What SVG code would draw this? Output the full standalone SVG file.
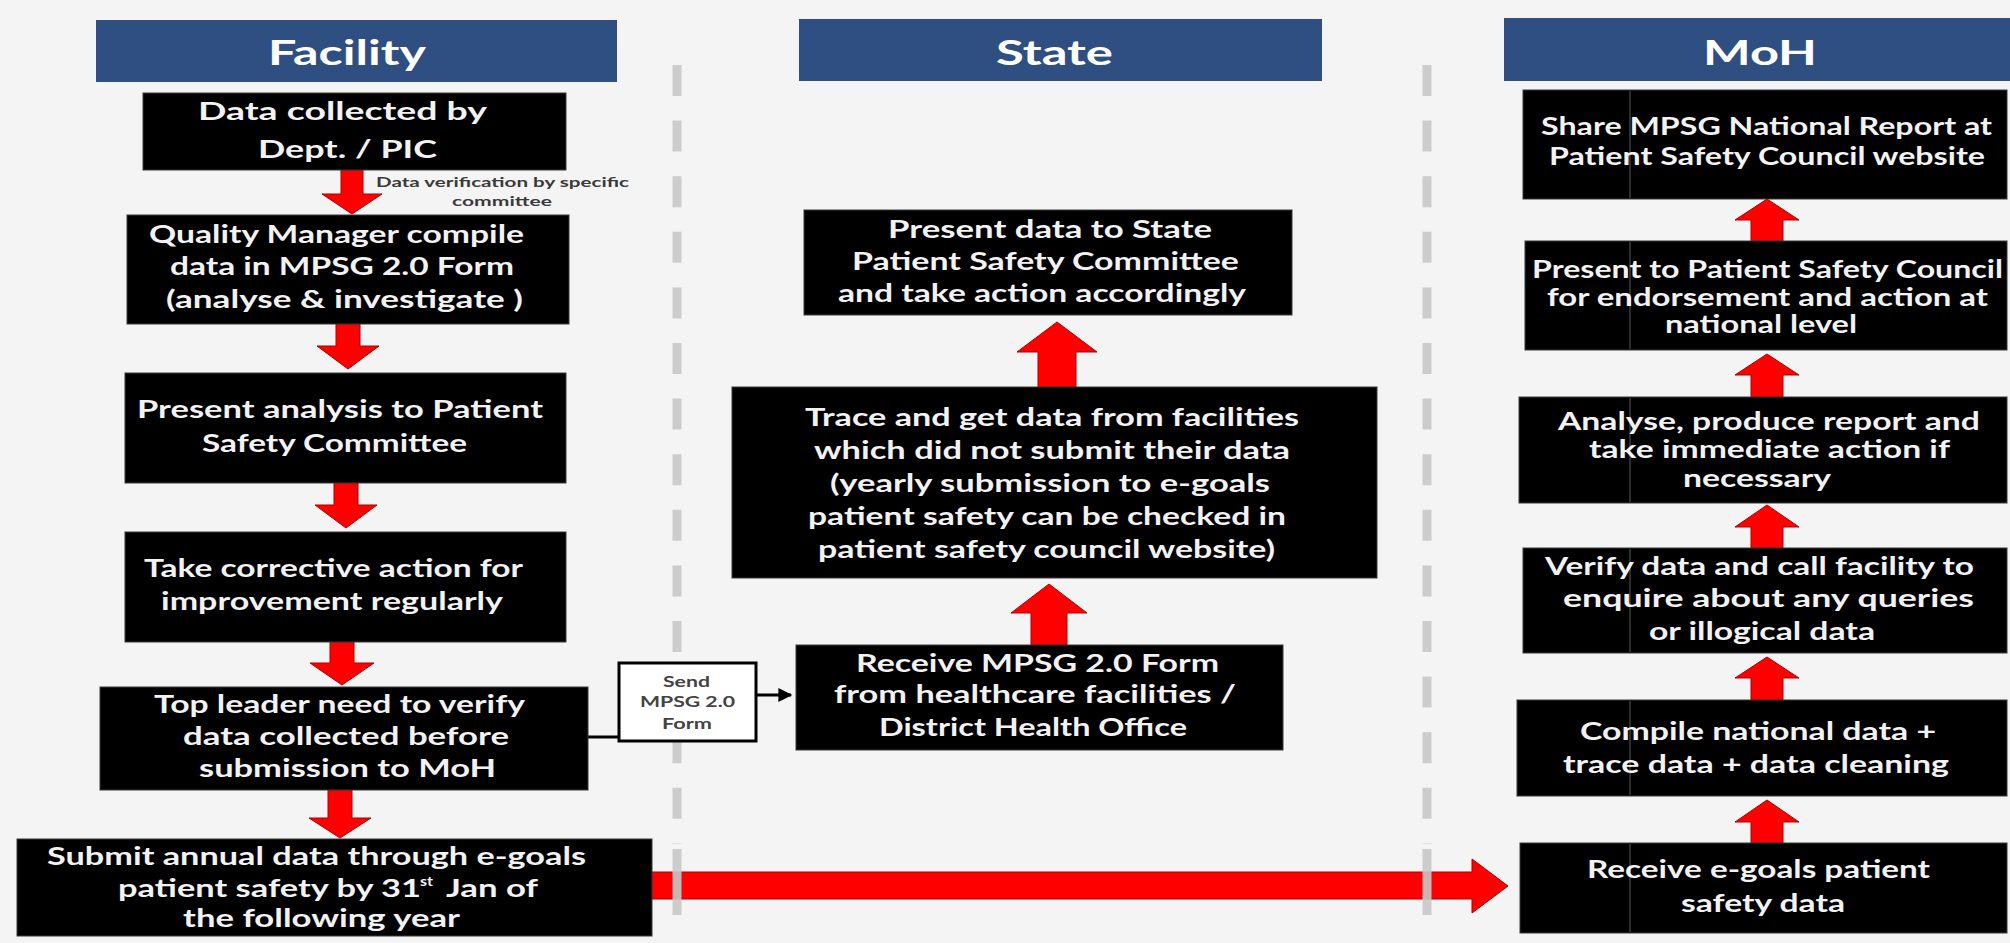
<svg xmlns="http://www.w3.org/2000/svg" width="2010" height="943" viewBox="0 0 2010 943">
<defs>
<style>
.bg{fill:#f4f4f4}
.hdr{fill:#2f4f82}
.ht{font-family:Lato,"Open Sans","Liberation Sans",sans-serif;font-weight:700;font-size:35px;fill:#ffffff}
.box{fill:#000000;stroke:#3a3a3a;stroke-width:1}
.t{font-family:Lato,"Open Sans","Liberation Sans",sans-serif;font-weight:700;font-size:25px;fill:#f2f2f2}
.ts{font-family:Lato,"Open Sans","Liberation Sans",sans-serif;font-weight:700;font-size:24px;fill:#f2f2f2}
.sup{font-family:Lato,"Open Sans","Liberation Sans",sans-serif;font-weight:700;font-size:14px;fill:#f2f2f2}
.lbl{font-family:Lato,"Open Sans","Liberation Sans",sans-serif;font-weight:700;font-size:13px;fill:#3a3a3a}
.sendt{font-family:Lato,"Open Sans","Liberation Sans",sans-serif;font-weight:700;font-size:15px;fill:#444444}
.red{fill:#ff0000;stroke:#b00000;stroke-width:1}
.dash{stroke:#c8c8c8;stroke-width:9;fill:none}
.seam{stroke:#5a5a5a;stroke-width:1}
.conn{stroke:#000000;stroke-width:3;fill:none}
</style>
<marker id="ah" viewBox="0 0 10 10" refX="9" refY="5" markerWidth="17" markerHeight="14" markerUnits="userSpaceOnUse" orient="auto">
<path d="M0,0 L10,5 L0,10 z" fill="#000000"/>
</marker>
</defs>
<rect class="bg" x="0" y="0" width="2010" height="943"/>

<g id="headers">
<rect class="hdr" x="96" y="20" width="521" height="62"/>
<text class="ht" x="268" y="65" textLength="158" lengthAdjust="spacingAndGlyphs">Facility</text>
<rect class="hdr" x="799" y="19" width="523" height="62"/>
<text class="ht" x="996" y="65" textLength="117" lengthAdjust="spacingAndGlyphs">State</text>
<rect class="hdr" x="1504" y="18" width="506" height="63"/>
<text class="ht" x="1703" y="65" textLength="114" lengthAdjust="spacingAndGlyphs">MoH</text>
</g>

<g id="connectors">
<polygon class="red" points="341,170 363,170 363,194 382,194 352,214 322,194 341,194"/>
<polygon class="red" points="336,324 360,324 360,346 379,346 348,369 317,346 336,346"/>
<polygon class="red" points="334,483 358,483 358,505 377,505 346,528 315,505 334,505"/>
<polygon class="red" points="330,642 354,642 354,663 374,663 342,685 310,663 330,663"/>
<polygon class="red" points="328,790 352,790 352,818 371,818 340,838 309,818 328,818"/>
<polygon class="red" points="1031,645 1067,645 1067,613 1087,613 1049,584 1011,613 1031,613"/>
<polygon class="red" points="1038,387 1076,387 1076,352 1097,352 1057,322 1017,352 1038,352"/>
<polygon class="red" points="1751,843 1783,843 1783,822 1799,822 1767,800 1735,822 1751,822"/>
<polygon class="red" points="1751,700 1783,700 1783,678 1799,678 1767,657 1735,678 1751,678"/>
<polygon class="red" points="1751,548 1783,548 1783,527 1799,527 1767,505 1735,527 1751,527"/>
<polygon class="red" points="1751,397 1783,397 1783,375 1799,375 1767,354 1735,375 1751,375"/>
<polygon class="red" points="1751,241 1783,241 1783,220 1799,220 1767,199 1735,220 1751,220"/>
<polygon class="red" points="652,872 1472,872 1472,859 1508,886 1472,913 1472,899 652,899"/>
<line class="conn" x1="588" y1="737" x2="621" y2="737"/>
<line class="conn" x1="756" y1="695" x2="791" y2="695" marker-end="url(#ah)"/>
</g>

<g id="separators" opacity="0.9">
<line class="dash" x1="677" y1="65" x2="677" y2="844" stroke-dasharray="31 24.6"/>
<line class="dash" x1="677" y1="849" x2="677" y2="915"/>
<line class="dash" x1="1427" y1="65" x2="1427" y2="844" stroke-dasharray="31 24.6"/>
<line class="dash" x1="1427" y1="849" x2="1427" y2="915"/>
</g>

<g id="f-label">
<text class="lbl" x="376" y="187" textLength="253" lengthAdjust="spacingAndGlyphs">Data verification by specific</text>
<text class="lbl" x="452" y="206" textLength="100" lengthAdjust="spacingAndGlyphs">committee</text>
</g>

<g id="f1">
<rect class="box" x="143" y="93" width="423" height="77"/>
<text class="t" x="198" y="120" textLength="289" lengthAdjust="spacingAndGlyphs">Data collected by</text>
<text class="t" x="258" y="158" textLength="179" lengthAdjust="spacingAndGlyphs">Dept. / PIC</text>
</g>
<g id="f2">
<rect class="box" x="127" y="215" width="442" height="109"/>
<text class="t" x="149" y="243" textLength="375" lengthAdjust="spacingAndGlyphs">Quality Manager compile</text>
<text class="t" x="170" y="275" textLength="344" lengthAdjust="spacingAndGlyphs">data in MPSG 2.0 Form</text>
<text class="t" x="166" y="308" textLength="357" lengthAdjust="spacingAndGlyphs">(analyse  &amp; investigate )</text>
</g>
<g id="f3">
<rect class="box" x="125" y="373" width="441" height="110"/>
<text class="t" x="137" y="418" textLength="406" lengthAdjust="spacingAndGlyphs">Present analysis  to Patient</text>
<text class="t" x="202" y="452" textLength="265" lengthAdjust="spacingAndGlyphs">Safety Committee</text>
</g>
<g id="f4">
<rect class="box" x="125" y="532" width="441" height="110"/>
<text class="t" x="144" y="577" textLength="379" lengthAdjust="spacingAndGlyphs">Take  corrective action for</text>
<text class="t" x="161" y="610" textLength="342" lengthAdjust="spacingAndGlyphs">improvement regularly</text>
</g>
<g id="f5">
<rect class="box" x="100" y="687" width="488" height="103"/>
<text class="t" x="154" y="713" textLength="371" lengthAdjust="spacingAndGlyphs">Top leader need to verify</text>
<text class="t" x="183" y="745" textLength="326" lengthAdjust="spacingAndGlyphs">data collected  before</text>
<text class="t" x="199" y="777" textLength="297" lengthAdjust="spacingAndGlyphs">submission to  MoH</text>
</g>
<g id="f6">
<rect class="box" x="17" y="839" width="635" height="97"/>
<text class="t" x="47" y="865" textLength="539" lengthAdjust="spacingAndGlyphs">Submit annual  data through e-goals</text>
<text class="t" x="118" y="897" textLength="303" lengthAdjust="spacingAndGlyphs">patient safety  by 31</text>
<text class="sup" x="420" y="886" textLength="13" lengthAdjust="spacingAndGlyphs">st</text>
<text class="t" x="446" y="897" textLength="92" lengthAdjust="spacingAndGlyphs">Jan of</text>
<text class="t" x="183" y="927" textLength="277" lengthAdjust="spacingAndGlyphs">the following  year</text>
</g>

<g id="send">
<rect x="619" y="663" width="137" height="78" fill="#ffffff" stroke="#000000" stroke-width="3"/>
<text class="sendt" x="663" y="687" textLength="47" lengthAdjust="spacingAndGlyphs">Send</text>
<text class="sendt" x="640" y="707" textLength="95" lengthAdjust="spacingAndGlyphs">MPSG 2.0</text>
<text class="sendt" x="662" y="729" textLength="50" lengthAdjust="spacingAndGlyphs">Form</text>
</g>

<g id="s3">
<rect class="box" x="804" y="210" width="488" height="105"/>
<text class="ts" x="888" y="238" textLength="324" lengthAdjust="spacingAndGlyphs">Present data to  State</text>
<text class="ts" x="852" y="270" textLength="387" lengthAdjust="spacingAndGlyphs">Patient Safety  Committee</text>
<text class="ts" x="838" y="302" textLength="408" lengthAdjust="spacingAndGlyphs">and take action accordingly</text>
</g>
<g id="s2">
<rect class="box" x="732" y="387" width="645" height="191"/>
<text class="ts" x="805" y="426" textLength="494" lengthAdjust="spacingAndGlyphs">Trace and get  data from facilities</text>
<text class="ts" x="814" y="459" textLength="476" lengthAdjust="spacingAndGlyphs">which did  not submit their data</text>
<text class="ts" x="830" y="492" textLength="440" lengthAdjust="spacingAndGlyphs">(yearly submission to e-goals</text>
<text class="ts" x="808" y="525" textLength="478" lengthAdjust="spacingAndGlyphs">patient safety can be checked in</text>
<text class="ts" x="818" y="558" textLength="457" lengthAdjust="spacingAndGlyphs">patient safety council website)</text>
</g>
<g id="s1">
<rect class="box" x="796" y="645" width="487" height="105"/>
<text class="ts" x="856" y="672" textLength="363" lengthAdjust="spacingAndGlyphs">Receive MPSG  2.0 Form</text>
<text class="ts" x="834" y="703" textLength="402" lengthAdjust="spacingAndGlyphs">from  healthcare facilities /</text>
<text class="ts" x="879" y="736" textLength="308" lengthAdjust="spacingAndGlyphs">District Health Office</text>
</g>

<g id="m6">
<rect class="box" x="1523" y="90" width="484" height="109"/>
<line class="seam" x1="1630" y1="91" x2="1630" y2="198"/>
<text class="ts" x="1541" y="135" textLength="451" lengthAdjust="spacingAndGlyphs">Share MPSG National Report at</text>
<text class="ts" x="1549" y="165" textLength="436" lengthAdjust="spacingAndGlyphs">Patient Safety Council website</text>
</g>
<g id="m5">
<rect class="box" x="1525" y="241" width="482" height="109"/>
<line class="seam" x1="1630" y1="242" x2="1630" y2="349"/>
<text class="ts" x="1532" y="278" textLength="471" lengthAdjust="spacingAndGlyphs">Present to Patient Safety Council</text>
<text class="ts" x="1547" y="306" textLength="441" lengthAdjust="spacingAndGlyphs">for endorsement and action at</text>
<text class="ts" x="1665" y="333" textLength="192" lengthAdjust="spacingAndGlyphs">national level</text>
</g>
<g id="m4">
<rect class="box" x="1519" y="397" width="488" height="106"/>
<line class="seam" x1="1630" y1="398" x2="1630" y2="502"/>
<text class="ts" x="1558" y="430" textLength="422" lengthAdjust="spacingAndGlyphs">Analyse, produce report  and</text>
<text class="ts" x="1589" y="458" textLength="361" lengthAdjust="spacingAndGlyphs">take immediate action if</text>
<text class="ts" x="1683" y="487" textLength="148" lengthAdjust="spacingAndGlyphs">necessary</text>
</g>
<g id="m3">
<rect class="box" x="1523" y="548" width="484" height="105"/>
<line class="seam" x1="1630" y1="549" x2="1630" y2="652"/>
<text class="ts" x="1545" y="575" textLength="429" lengthAdjust="spacingAndGlyphs">Verify data and call facility to</text>
<text class="ts" x="1563" y="607" textLength="411" lengthAdjust="spacingAndGlyphs">enquire  about  any  queries</text>
<text class="ts" x="1649" y="640" textLength="226" lengthAdjust="spacingAndGlyphs">or illogical data</text>
</g>
<g id="m2">
<rect class="box" x="1517" y="700" width="490" height="96"/>
<line class="seam" x1="1630" y1="701" x2="1630" y2="795"/>
<text class="ts" x="1580" y="740" textLength="356" lengthAdjust="spacingAndGlyphs">Compile national data +</text>
<text class="ts" x="1563" y="773" textLength="386" lengthAdjust="spacingAndGlyphs">trace data + data cleaning</text>
</g>
<g id="m1">
<rect class="box" x="1520" y="843" width="487" height="90"/>
<line class="seam" x1="1630" y1="844" x2="1630" y2="932"/>
<text class="ts" x="1587" y="878" textLength="343" lengthAdjust="spacingAndGlyphs">Receive e-goals patient</text>
<text class="ts" x="1681" y="912" textLength="164" lengthAdjust="spacingAndGlyphs">safety data</text>
</g>
</svg>
